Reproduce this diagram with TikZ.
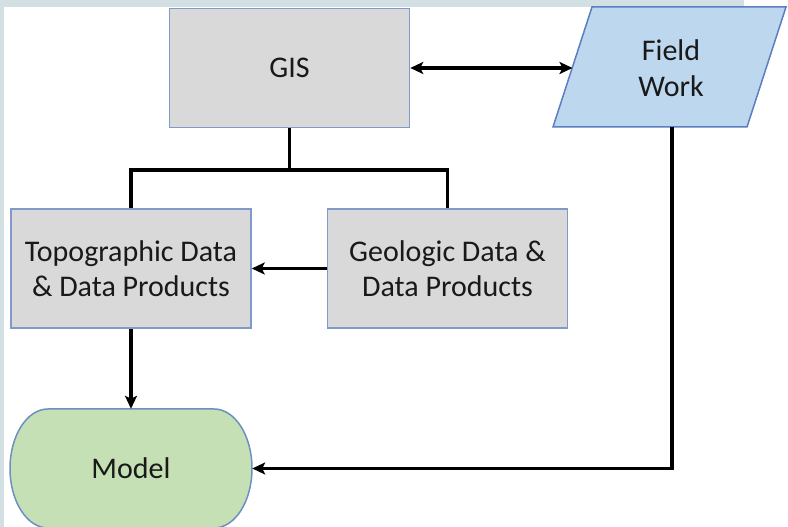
\documentclass[tikz,border=0pt]{standalone}
\usepackage{fontspec}
\setmainfont{Carlito}
\usetikzlibrary{arrows.meta,calc}
\definecolor{bgstrip}{HTML}{D2DFE3}
\definecolor{boxgray}{HTML}{D9D9D9}
\definecolor{boxline}{HTML}{7F99C9}
\definecolor{fieldfill}{HTML}{BDD7EE}
\definecolor{fieldline}{HTML}{5B7FBE}
\definecolor{modelfill}{HTML}{C5E0B4}
\definecolor{modelline}{HTML}{6E8FC2}
\begin{document}
\begin{tikzpicture}[x=1pt,y=1pt,
  txt/.style={inner sep=0pt, align=center, text=black!90, font=\fontsize{30}{35.5}\selectfont},
  box/.style={txt, draw=boxline, line width=1.5pt, fill=boxgray, minimum width=240pt, minimum height=119pt},
  conn/.style={line width=3.3pt, black, line join=miter},
  arr/.style={-{Stealth[length=13pt,width=12pt,inset=3pt]}}
]
\useasboundingbox (0,0) rectangle (788,527);
\fill[white] (0,0) rectangle (788,527);
\fill[bgstrip] (0,520) rectangle (744,527);
\fill[bgstrip] (0,0) rectangle (4,527);

% nodes
\node[box] (gis) at (289.5,459) {GIS};
\node[box] (topo) at (131,258.5) {Topographic Data\\\& Data Products};
\node[box] (geo) at (447.5,258.5) {Geologic Data \&\\Data Products};

% Field Work parallelogram
\draw[fill=fieldfill, draw=fieldline, line width=1.5pt, line join=miter]
  (553,400) -- (747,400) -- (786,520) -- (592,520) -- cycle;
\node[txt] (field) at (671,459) {Field\\Work};
\coordinate (fw) at (572.5,459);
\coordinate (fs) at (672,400);

% Model terminator
\draw[fill=modelfill, draw=modelline, line width=1.5pt]
  (48,118) -- (214,118) arc[start angle=90, end angle=-90, x radius=38, y radius=59.5]
  -- (48,-1) arc[start angle=270, end angle=90, x radius=38, y radius=59.5] -- cycle;
\node[txt, minimum width=242pt, minimum height=119pt] (model) at (131,58.5) {Model};

% connectors
\coordinate (j) at (289.5,357);
\draw[conn] (gis.south) -- (j);
\draw[conn] (topo.north) |- (j) -| (geo.north);
\draw[conn, {Stealth[length=13pt,width=12pt,inset=3pt]}-{Stealth[length=13pt,width=12pt,inset=3pt]}] (gis.east) -- (fw);
\draw[conn, arr] (geo.west) -- (geo.west -| topo.east);
\draw[conn, arr] (topo.south) -- (model.north);
\draw[conn, arr] (fs) |- (model.east);
\end{tikzpicture}
\end{document}
